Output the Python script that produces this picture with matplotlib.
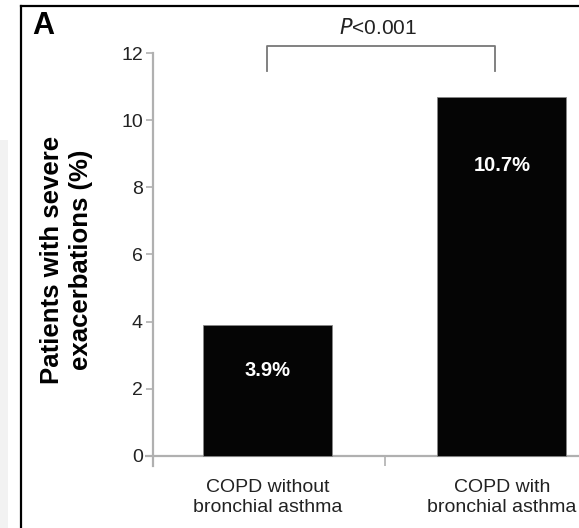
import matplotlib
matplotlib.use("Agg")
import matplotlib.pyplot as plt
import matplotlib.lines as mlines
import matplotlib.patches as mpatches

plt.rcParams['font.family'] = ['Liberation Sans', 'DejaVu Sans']

# data
categories = ['COPD without\nbronchial asthma', 'COPD with\nbronchial asthma']
values = [3.9, 10.7]
bar_labels = ['3.9%', '10.7%']
label_y = [2.55, 8.65]
yticks = [0, 2, 4, 6, 8, 10, 12]
p_text = r'$\mathit{P}$<0.001'

W, H = 579, 528
fig = plt.figure(figsize=(W / 100, H / 100), dpi=100)
fig.patch.set_facecolor('white')

ax = fig.add_axes([145 / W, 62 / H, 1 - 145 / W, (466 - 53) / H])
ax.set_xlim(-0.522, 1.329)
ax.set_ylim(-0.3, 12)

xpos = list(range(len(categories)))
ax.bar(xpos, values, width=0.55, color='#050505', edgecolor='#888888', linewidth=0.6, zorder=3)

for x, y, t in zip(xpos, label_y, bar_labels):
    ax.text(x, y, t, color='white', fontsize=14.5, fontweight='bold',
            ha='center', va='center', zorder=4)

axis_col = '#b0b0b0'
for s in ['top', 'right', 'bottom']:
    ax.spines[s].set_visible(False)
ax.spines['left'].set_position(('data', -0.49))
ax.spines['left'].set_color(axis_col)
ax.spines['left'].set_linewidth(1.6)
ax.axhline(0, color=axis_col, linewidth=1.6, zorder=2)

ax.set_yticks(yticks)
ax.tick_params(axis='y', length=5, width=1.2, color=axis_col, pad=2,
               labelsize=14, labelcolor='#222222')

# separator tick between categories, category labels as minor ticks
ax.set_xticks([0.5])
ax.set_xticklabels([''])
ax.tick_params(axis='x', which='major', direction='in', length=7.5, width=1.2, color=axis_col)
ax.set_xticks(xpos, minor=True)
ax.set_xticklabels(categories, minor=True)
ax.tick_params(axis='x', which='minor', length=0, pad=9, labelsize=14, labelcolor='#222222')
for lbl in ax.get_xticklabels(minor=True):
    lbl.set_linespacing(1.3)

ax.set_ylabel('Patients with severe\nexacerbations (%)', fontsize=18.5, fontweight='bold',
              labelpad=20, linespacing=1.3)

# significance bracket
bx = [0, 0, 0.97, 0.97]
by = [11.46, 12.21, 12.21, 11.46]
ax.plot(bx, by, color='#777777', linewidth=1.3, clip_on=False)
ax.text(0.47, 12.75, p_text, fontsize=15, ha='center', va='center', color='#222222')

# panel letter and frame
fig.text(32 / W, 1 - 26 / H, 'A', fontsize=22, fontweight='bold', va='center', ha='left')
fig.add_artist(mlines.Line2D([21 / W, 21 / W], [0, 1 - 6 / H], color='black', linewidth=1.6))
fig.add_artist(mlines.Line2D([21 / W, 1], [1 - 6 / H, 1 - 6 / H], color='black', linewidth=1.6))
fig.add_artist(mpatches.Rectangle((0, 0), 8 / W, 1 - 140 / H, transform=fig.transFigure,
                                  facecolor='#f2f2f2', edgecolor='none'))

fig.savefig('out.png', dpi=100)
